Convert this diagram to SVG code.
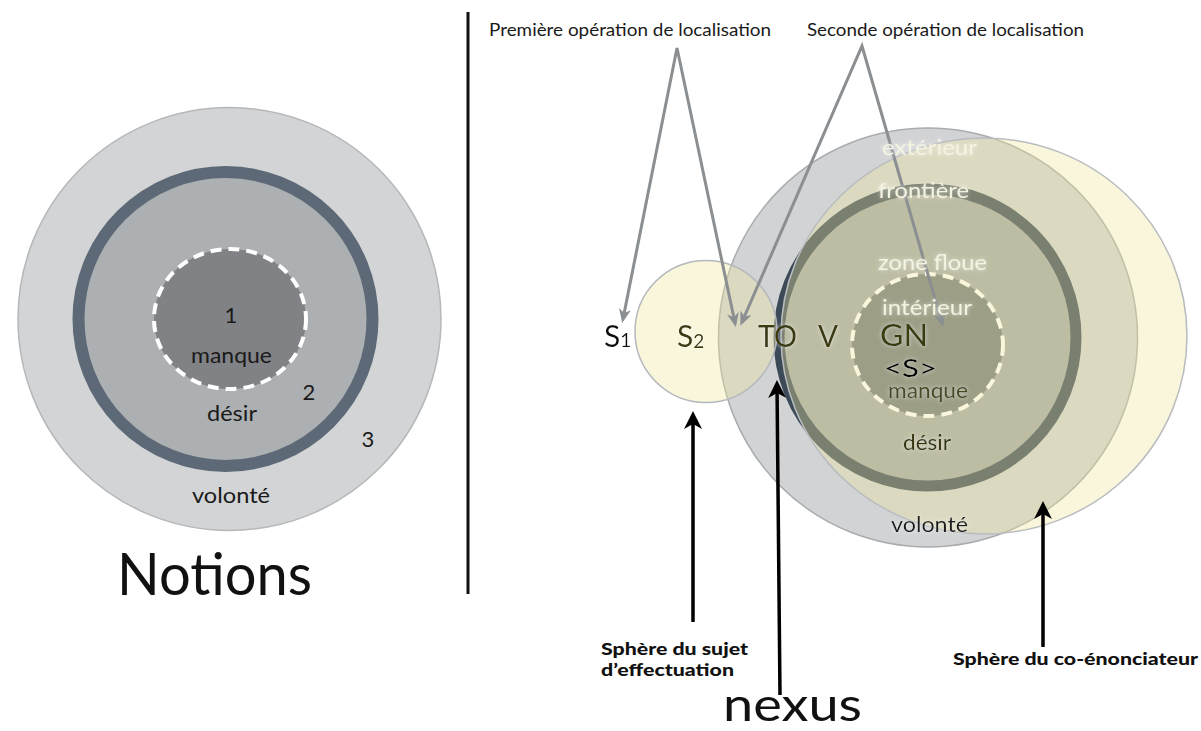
<svg xmlns="http://www.w3.org/2000/svg" width="1201" height="731" viewBox="0 0 1201 731">
<style>
text{font-family:Lato,"Liberation Sans",sans-serif}
.lbl{font-size:22px;fill:#1a1a1a}
.light{font-size:22px;fill:#f4f2e0}
.olive{fill:#3a3a0e;font-size:30px}
.bold{font-size:17px;font-weight:900;fill:#111}
.top{font-size:17px;fill:#1a1a1a}
.gray{fill:none;stroke:#8b8f92;stroke-width:3}
.black{fill:none;stroke:#000;stroke-width:3.5}
.dash{stroke:#fff;stroke-width:4;stroke-dasharray:11 7}
</style>
<defs>
<marker id="ga" markerUnits="userSpaceOnUse" viewBox="0 0 14 12" markerWidth="14" markerHeight="12" refX="10" refY="6" orient="auto-start-reverse">
<path d="M0,0 L14,6 L0,12 L4,6 z" fill="#8b8f92"/>
</marker>
<marker id="ba" markerUnits="userSpaceOnUse" viewBox="0 0 18 18" markerWidth="18" markerHeight="18" refX="14" refY="9" orient="auto">
<path d="M0,0 L18,9 L0,18 L5,9 z" fill="#000"/>
</marker>
<filter id="glow" x="-20%" y="-50%" width="140%" height="200%">
<feGaussianBlur in="SourceAlpha" stdDeviation="2" result="b"/>
<feFlood flood-color="#ffffff" flood-opacity="0.6"/>
<feComposite in2="b" operator="in"/>
<feMerge><feMergeNode/><feMergeNode in="SourceGraphic"/></feMerge>
</filter>
</defs>

<rect width="1201" height="731" fill="#fff"/>

<g id="notions">
<circle cx="229.5" cy="319" r="211.5" fill="#d2d4d5" stroke="#b5b8ba" stroke-width="1.5"/>
<circle cx="225.5" cy="319" r="147" fill="#adb0b2" stroke="#5d6976" stroke-width="12"/>
<ellipse class="dash" cx="230" cy="319" rx="76" ry="70" fill="#808285"/>
<text class="lbl" x="231" y="323" text-anchor="middle">1</text>
<text class="lbl" x="191" y="363" textLength="81" lengthAdjust="spacingAndGlyphs">manque</text>
<text class="lbl" x="309" y="400" text-anchor="middle">2</text>
<text class="lbl" x="207" y="421" textLength="50" lengthAdjust="spacingAndGlyphs">désir</text>
<text class="lbl" x="368" y="447" text-anchor="middle">3</text>
<text class="lbl" x="192" y="503" textLength="78" lengthAdjust="spacingAndGlyphs">volonté</text>
<text x="117" y="595" font-size="58" fill="#111" textLength="195" lengthAdjust="spacingAndGlyphs">Notions</text>
</g>

<line id="divider" x1="468" y1="12" x2="468" y2="594" stroke="#111" stroke-width="3"/>

<g id="sphere-volonte">
<circle cx="928" cy="337.5" r="209.5" fill="#d1d3d4" stroke="#a9adb0" stroke-width="1.5"/>
</g>
<g id="sphere-desir">
<circle cx="927.5" cy="337.5" r="148.5" fill="#a4a8aa" stroke="#3c4a58" stroke-width="11"/>
</g>
<g id="zone-interieur">
<ellipse class="dash" cx="927.5" cy="345" rx="75.5" ry="71" fill="#71787b"/>
</g>
<g id="sphere-sujet">
<circle cx="706" cy="331.5" r="71" fill="#eee59b" fill-opacity="0.35" stroke="#b4b8bb" stroke-width="1.5"/>
</g>
<g id="sphere-coenonciateur">
<ellipse cx="984" cy="336" rx="203" ry="198" fill="#eee59b" fill-opacity="0.35" stroke="#b9bcbf" stroke-width="1.5"/>
</g>

<g id="connectors">
<polyline class="gray" points="623,319 677,48 735,323" marker-start="url(#ga)" marker-end="url(#ga)"/>
<polyline class="gray" points="742,322 862,46 942,323" marker-start="url(#ga)" marker-end="url(#ga)"/>
<line class="black" x1="693" y1="622" x2="693" y2="415" marker-end="url(#ba)"/>
<line class="black" x1="780" y1="695" x2="777" y2="384" marker-end="url(#ba)"/>
<line class="black" x1="1043" y1="647" x2="1043" y2="505" marker-end="url(#ba)"/>
</g>

<g id="labels-right" filter="url(#glow)">
<text class="light" x="882" y="155" textLength="95" lengthAdjust="spacingAndGlyphs">extérieur</text>
<text class="light" x="878" y="198" textLength="91" lengthAdjust="spacingAndGlyphs">frontière</text>
<text class="light" x="878" y="270" textLength="109" lengthAdjust="spacingAndGlyphs">zone floue</text>
<text class="light" x="882" y="315" textLength="90" lengthAdjust="spacingAndGlyphs">intérieur</text>
<text x="604" y="347" font-size="30" fill="#111">S<tspan font-size="19">1</tspan></text>
<text class="olive" x="677" y="347">S<tspan font-size="19" dy="1">2</tspan></text>
<text class="olive" x="758" y="347" textLength="39" lengthAdjust="spacingAndGlyphs">TO</text>
<text class="olive" x="818" y="347" textLength="20" lengthAdjust="spacingAndGlyphs">V</text>
<text class="olive" x="880" y="346" textLength="48" lengthAdjust="spacingAndGlyphs">GN</text>
<text x="884" y="377" font-size="25" fill="#000" textLength="53" lengthAdjust="spacingAndGlyphs">&lt;S&gt;</text>
<text x="888" y="398" font-size="22" fill="#4a4a22" textLength="80" lengthAdjust="spacingAndGlyphs">manque</text>
<text x="903" y="450" font-size="22" fill="#36360c" textLength="48" lengthAdjust="spacingAndGlyphs">désir</text>
<text class="lbl" x="891" y="532" textLength="77" lengthAdjust="spacingAndGlyphs">volonté</text>
</g>

<g id="labels-outside">
<text class="top" x="489" y="36" textLength="282" lengthAdjust="spacingAndGlyphs">Première opération de localisation</text>
<text class="top" x="807" y="36" textLength="277" lengthAdjust="spacingAndGlyphs">Seconde opération de localisation</text>
<text class="bold" x="601" y="655" textLength="147" lengthAdjust="spacingAndGlyphs">Sphère du sujet</text>
<text class="bold" x="601" y="676" textLength="133" lengthAdjust="spacingAndGlyphs">d’effectuation</text>
<text class="bold" x="953" y="665" textLength="245" lengthAdjust="spacingAndGlyphs">Sphère du co-énonciateur</text>
<text x="723" y="721" font-size="47" fill="#111" textLength="139" lengthAdjust="spacingAndGlyphs">nexus</text>
</g>
</svg>
